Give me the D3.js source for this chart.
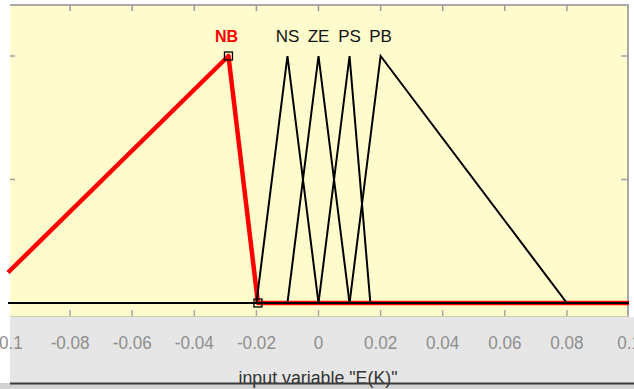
<!DOCTYPE html>
<html>
<head>
<meta charset="utf-8">
<script src="https://d3js.org/d3.v7.min.js"></script>
<style>
	body { margin: 0; background: #fff; }
	svg { display: block; font-family: "Liberation Sans", Arial, sans-serif; }
	.tick-label { fill: #8e8e8e; font-size: 19px; }
	.mf-label { font-size: 17px; fill: #111; }
</style>
</head>
<body>
<div id="container"></div>
<script>

// membership functions of input "E(K)" (trimf params a, b, c)
var mfNames = ["NB", "NS", "ZE", "PS", "PB"];
var mfParams = [
	[-0.11, -0.029, -0.0195],
	[-0.02, -0.01, 0],
	[-0.01, 0, 0.01],
	[0, 0.01, 0.0167],
	[0.01, 0.02, 0.08]
];
var selected = 0; // NB is the highlighted one
var xTicks = [-0.1, -0.08, -0.06, -0.04, -0.02, 0, 0.02, 0.04, 0.06, 0.08, 0.1];
var xTickLabels = ["-0.1", "-0.08", "-0.06", "-0.04", "-0.02", "0", "0.02", "0.04", "0.06", "0.08", "0.1"];
var yTicks = [0, 0.5, 1];
var xRange = [-0.1, 0.1];
var xLabel = 'input variable "E(K)"';

var W = 634, H = 389;

var svg = d3.select("#container").append("svg")
	.attr("width", W)
	.attr("height", H);

var x = d3.scaleLinear().domain(xRange).range([8, 629]);
var y = d3.scaleLinear().domain([0, 1]).range([303, 56]);

var boxTop = 5, boxBottom = 317, boxLeft = 10, boxRight = 628;

// grey panel under the plot
svg.append("rect")
	.attr("x", boxLeft).attr("y", boxBottom)
	.attr("width", W - boxLeft).attr("height", 383 - boxBottom)
	.attr("fill", "#e6e6e6");
svg.append("rect")
	.attr("x", 0).attr("y", 383)
	.attr("width", W).attr("height", H - 383)
	.attr("fill", "#d2d2d2");

// yellow plot box
svg.append("rect")
	.attr("x", boxLeft).attr("y", boxTop)
	.attr("width", boxRight - boxLeft).attr("height", boxBottom - boxTop)
	.attr("fill", "#fefccc");

// frame
svg.append("line")
	.attr("x1", boxLeft).attr("x2", boxRight + 1)
	.attr("y1", boxTop).attr("y2", boxTop)
	.attr("stroke", "#a8a8a8").attr("stroke-width", 2);
svg.append("line")
	.attr("x1", boxRight).attr("x2", boxRight)
	.attr("y1", boxTop).attr("y2", boxBottom)
	.attr("stroke", "#a8a8a8").attr("stroke-width", 2);
svg.append("line")
	.attr("x1", boxLeft).attr("x2", boxRight)
	.attr("y1", boxBottom - 0.5).attr("y2", boxBottom - 0.5)
	.attr("stroke", "#cfcfb8").attr("stroke-width", 1);

// ticks top & bottom
var tickG = svg.append("g");
xTicks.forEach(function(t) {
	var px = x(t);
	if (px < boxLeft || px > boxRight) return;
	tickG.append("line")
		.attr("x1", px).attr("x2", px).attr("y1", boxTop).attr("y2", boxTop + 6)
		.attr("stroke", "#9a9a9a").attr("stroke-width", 1.5);
	tickG.append("line")
		.attr("x1", px).attr("x2", px).attr("y1", boxBottom - 7).attr("y2", boxBottom - 1)
		.attr("stroke", "#a8a8a8").attr("stroke-width", 1.5);
});
yTicks.forEach(function(t) {
	if (t === 0) return;
	tickG.append("line")
		.attr("x1", boxLeft).attr("x2", boxLeft + 5).attr("y1", y(t)).attr("y2", y(t))
		.attr("stroke", "#a0a0a0").attr("stroke-width", 1.5);
	tickG.append("line")
		.attr("x1", boxRight - 7).attr("x2", boxRight).attr("y1", y(t)).attr("y2", y(t))
		.attr("stroke", "#a0a0a0").attr("stroke-width", 1.5);
});

// tick labels (the end ones are cut by the window edge, as in the original)
svg.append("g").selectAll("text")
	.data(xTicks)
	.enter().append("text")
	.attr("class", "tick-label")
	.attr("text-anchor", "middle")
	.attr("transform", function(d) { return "translate(" + x(d) + ",349) scale(0.9,1)"; })
	.text(function(d, i) { return xTickLabels[i]; });

// triangular membership curve over the whole range
function trimf(v, p) {
	var a = p[0], b = p[1], c = p[2];
	if (v <= a || v >= c) return 0;
	if (v <= b) return (v - a) / (b - a);
	return (c - v) / (c - b);
}
function mfPoints(p) {
	var xs = [xRange[0], xRange[1]];
	p.forEach(function(v) { if (v > xRange[0] && v < xRange[1]) xs.push(v); });
	xs.sort(d3.ascending);
	return xs.map(function(v) { return [v, trimf(v, p)]; });
}

var line = d3.line()
	.x(function(d) { return x(d[0]); })
	.y(function(d) { return y(d[1]); });

// selected MF first (thick red), others on top in black
svg.append("path")
	.datum(mfPoints(mfParams[selected]))
	.attr("d", line)
	.attr("fill", "none")
	.attr("stroke", "#ff0000")
	.attr("stroke-width", 4.5)
	.attr("stroke-linejoin", "round");

mfParams.forEach(function(p, i) {
	if (i === selected) return;
	svg.append("path")
		.datum(mfPoints(p))
		.attr("d", line)
		.attr("fill", "none")
		.attr("stroke", "#000")
		.attr("stroke-width", 2);
});

// handles on the selected MF
var sp = mfParams[selected];
[[sp[1], 1], [sp[2], 0]].forEach(function(d) {
	svg.append("rect")
		.attr("x", x(d[0]) - 4).attr("y", y(d[1]) - 4)
		.attr("width", 8).attr("height", 8)
		.attr("fill", "none")
		.attr("stroke", "#000")
		.attr("stroke-width", 1.3);
});

// MF names above the peaks
svg.append("g").selectAll("text")
	.data(mfNames)
	.enter().append("text")
	.attr("class", "mf-label")
	.attr("x", function(d, i) { return x(mfParams[i][1]) - (i === selected ? 2 : 0); })
	.attr("y", 42)
	.attr("text-anchor", "middle")
	.style("fill", function(d, i) { return i === selected ? "#ff0000" : "#111"; })
	.style("font-weight", function(d, i) { return i === selected ? "bold" : "normal"; })
	.style("font-size", function(d, i) { return i === selected ? "16px" : "17px"; })
	.text(function(d) { return d; });

// x label, partly hidden by the bottom rule
svg.append("text")
	.attr("x", 318)
	.attr("y", 384)
	.attr("text-anchor", "middle")
	.attr("textLength", 159)
	.attr("lengthAdjust", "spacingAndGlyphs")
	.style("font-size", "18px")
	.style("fill", "#333")
	.text(xLabel);

svg.append("line")
	.attr("x1", 10).attr("x2", W)
	.attr("y1", 383.5).attr("y2", 383.5)
	.attr("stroke", "#3c3c3c").attr("stroke-width", 2);

</script>
</body>
</html>
